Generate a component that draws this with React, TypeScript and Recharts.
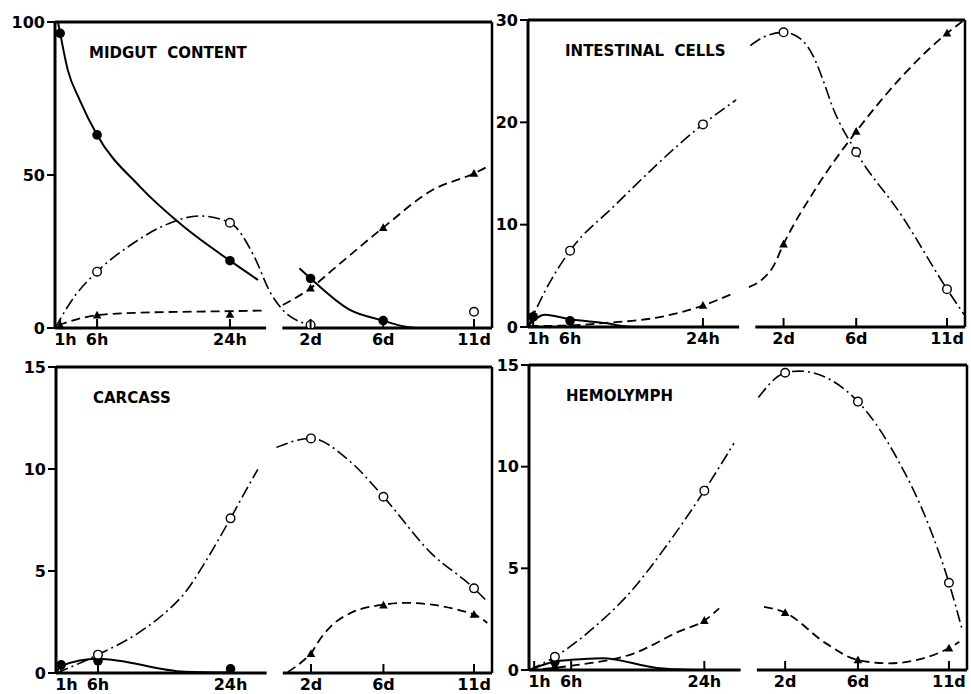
import React from 'react';
import { ComposedChart, Line, Scatter, XAxis, YAxis, ReferenceLine } from 'recharts';

type Pt = [string, number, number]; // unit ('h' hours | 'd' days), time, value

// ---------- axis categories ----------
const tickLabels = ['1h', '6h', '24h', '2d', '6d', '11d'];
const tickTimes: [string, number][] = [['h', 1], ['h', 6], ['h', 24], ['d', 2], ['d', 6], ['d', 11]];

// broken time axis: hours segment then days segment
const DAY_OFFSET = 30;
const DAY_SCALE = 2.46;
const X_DOMAIN: [number, number] = [0.3, 59.5];
const AXIS_BREAK: [number, number] = [28.9, 31.1];

// ---------- MIDGUT CONTENT ----------
const midgutFilled: Pt[] = [['h', 1, 96.3], ['h', 6, 63.1], ['h', 24, 22.0], ['d', 2, 16.2], ['d', 6, 2.4]];
const midgutOpen: Pt[] = [['h', 6, 18.4], ['h', 24, 34.4], ['d', 2, 1.0], ['d', 11, 5.3]];
const midgutTri: Pt[] = [['h', 1, 0.8], ['h', 6, 4.2], ['h', 24, 4.4], ['d', 2, 13.0], ['d', 6, 32.8], ['d', 11, 50.5]];
const midgutSolidH: Pt[] = [['h', 0.7, 100], ['h', 1, 96.3], ['h', 2, 84.6], ['h', 3.65, 74.5], ['h', 6, 63.1], ['h', 11.8, 46.2], ['h', 17.6, 33.4], ['h', 24, 22.0], ['h', 27.8, 15.7]];
const midgutSolidD: Pt[] = [['d', 1.39, 19.5], ['d', 2, 16.2], ['d', 4.14, 6.0], ['d', 6, 2.4], ['d', 7, 0.7], ['d', 7.8, 0]];
const midgutDashDot: Pt[] = [['h', 0.3, 0], ['h', 3, 10.5], ['h', 6, 18.4], ['h', 10.9, 27.7], ['h', 15, 33.4], ['h', 19.9, 36.6], ['h', 24, 34.4], ['h', 27.3, 23.3], ['h', 29.4, 11.9], ['d', 0.47, 5.9], ['d', 1.39, 2.1], ['d', 2, 1.0]];
const midgutDashedH: Pt[] = [['h', 0.72, 0.9], ['h', 6, 4.2], ['h', 11.8, 5.0], ['h', 24, 5.5], ['h', 28.7, 5.7]];
const midgutDashedD: Pt[] = [['d', 0.47, 7.5], ['d', 2, 13.0], ['d', 3.41, 20.0], ['d', 6, 32.8], ['d', 8.71, 45.1], ['d', 11, 50.5], ['d', 11.84, 53.0]];

// ---------- INTESTINAL CELLS ----------
const intestFilled: Pt[] = [['h', 1, 1.0], ['h', 6, 0.6]];
const intestOpen: Pt[] = [['h', 6, 7.46], ['h', 24, 19.8], ['d', 2, 28.8], ['d', 6, 17.1], ['d', 11, 3.7]];
const intestTri: Pt[] = [['h', 1, 1.2], ['h', 24, 2.1], ['d', 2, 8.1], ['d', 6, 19.1], ['d', 11, 28.7]];
const intestSolidH: Pt[] = [['h', 0.4, 0.2], ['h', 2.6, 1.2], ['h', 6, 0.75], ['h', 11, 0.36], ['h', 13.7, 0.05], ['h', 16, 0]];
const intestDashDotH: Pt[] = [['h', 0.3, 0], ['h', 2.6, 3.5], ['h', 6, 7.46], ['h', 11.8, 11.7], ['h', 24, 19.8], ['h', 28.5, 22.2]];
const intestDashDotD: Pt[] = [['d', 0.17, 27.5], ['d', 0.86, 28.3], ['d', 2, 28.8], ['d', 2.9, 28.2], ['d', 3.6, 26.6], ['d', 4.2, 24.0], ['d', 4.7, 21.5], ['d', 6, 17.1], ['d', 8.5, 10.9], ['d', 11, 3.7], ['d', 11.95, 1.2]];
const intestDashedH: Pt[] = [['h', 0.5, 0.1], ['h', 6, 0.15], ['h', 10.9, 0.4], ['h', 18.1, 0.96], ['h', 24, 2.1], ['h', 28, 3.25]];
const intestDashedD: Pt[] = [['d', 0.09, 3.9], ['d', 0.86, 4.7], ['d', 1.41, 5.85], ['d', 2, 8.1], ['d', 3.8, 13.6], ['d', 6, 19.1], ['d', 11, 28.7], ['d', 11.95, 30]];

// ---------- CARCASS ----------
const carcFilled: Pt[] = [['h', 1, 0.4], ['h', 6, 0.6], ['h', 24, 0.2]];
const carcOpen: Pt[] = [['h', 6, 0.9], ['h', 24, 7.58], ['d', 2, 11.5], ['d', 6, 8.64], ['d', 11, 4.15]];
const carcTri: Pt[] = [['d', 2, 0.94], ['d', 6, 3.32], ['d', 11, 2.87]];
const carcSolidH: Pt[] = [['h', 0.45, 0.09], ['h', 1, 0.35], ['h', 6, 0.7], ['h', 17.8, 0.06], ['h', 24, 0.02]];
const carcDashDotH: Pt[] = [['h', 0.4, 0], ['h', 6, 0.9], ['h', 11.5, 1.97], ['h', 15.1, 2.95], ['h', 17.8, 3.93], ['h', 20.5, 5.4], ['h', 22.3, 6.5], ['h', 24, 7.58], ['h', 25.9, 8.83], ['h', 27.7, 9.98]];
const carcDashDotD: Pt[] = [['d', 0.09, 11.06], ['d', 2, 11.5], ['d', 4.03, 10.47], ['d', 6, 8.64], ['d', 8.6, 5.9], ['d', 11, 4.15], ['d', 11.73, 3.5]];
const carcDashedD: Pt[] = [['d', 0.73, 0.05], ['d', 1.65, 0.66], ['d', 2, 0.95], ['d', 2.38, 1.5], ['d', 3.11, 2.3], ['d', 4.21, 2.95], ['d', 6, 3.35], ['d', 7.15, 3.44], ['d', 11, 2.87], ['d', 11.73, 2.45]];

// ---------- HEMOLYMPH ----------
const hemoFilled: Pt[] = [['h', 3.8, 0.4]];
const hemoOpen: Pt[] = [['h', 3.8, 0.65], ['h', 24, 8.82], ['d', 2, 14.62], ['d', 6, 13.2], ['d', 11, 4.29]];
const hemoTri: Pt[] = [['h', 3.8, 0.2], ['h', 24, 2.43], ['d', 2, 2.82], ['d', 6, 0.49], ['d', 11, 1.07]];
const hemoSolidH: Pt[] = [['h', 0.3, 0], ['h', 3.8, 0.42], ['h', 6, 0.5], ['h', 10.2, 0.58], ['h', 17.6, 0.1], ['h', 22.4, 0]];
const hemoDashDotH: Pt[] = [['h', 0.3, 0], ['h', 3.8, 0.65], ['h', 9.1, 2.1], ['h', 13.8, 3.75], ['h', 18.8, 6.07], ['h', 24, 8.82], ['h', 28, 11.15]];
const hemoDashDotD: Pt[] = [['d', 0.53, 13.4], ['d', 2, 14.62], ['d', 2.77, 14.7], ['d', 6, 13.2], ['d', 8.09, 10.5], ['d', 9.92, 7.05], ['d', 11, 4.29], ['d', 11.73, 1.97]];
const hemoDashedH: Pt[] = [['h', 0.3, 0], ['h', 5, 0.16], ['h', 6.8, 0.25], ['h', 14.5, 0.82], ['h', 20.6, 1.9], ['h', 24, 2.43], ['h', 26, 3.03]];
const hemoDashedD: Pt[] = [['d', 0.84, 3.11], ['d', 2, 2.82], ['d', 4.24, 1.31], ['d', 6, 0.49], ['d', 7.7, 0.33], ['d', 11, 1.07], ['d', 11.57, 1.39]];

// ---------- helpers ----------
const toPos = (u: string, t: number) => (u === 'h' ? t : DAY_OFFSET + DAY_SCALE * t);
const rows = (pts: Pt[]) => pts.map(([u, t, v]) => ({ x: toPos(u, t), y: v }));
const tickPositions = tickTimes.map(([u, t]) => toPos(u, t));

const FONT = "'DejaVu Sans', sans-serif";

const STYLES: Record<string, { dash?: string; width: number }> = {
  solid: { width: 2 },
  dashed: { dash: '9 5', width: 1.8 },
  dashdot: { dash: '12 4 2 4', width: 1.6 },
};

function XTick(props: any) {
  const { x, y, payload } = props;
  const idx = tickPositions.findIndex((p) => Math.abs(p - payload.value) < 1e-6);
  const label = tickLabels[idx] ?? '';
  const first = idx === 0;
  return (
    <g>
      <line x1={x} y1={y} x2={x} y2={y - 9} stroke="#000" strokeWidth={2} />
      <text
        x={first ? x - 6 : x}
        y={y + 17}
        textAnchor={first ? 'start' : 'middle'}
        fontFamily={FONT}
        fontWeight={700}
        fontSize={16}
        fill="#000"
      >
        {label}
      </text>
    </g>
  );
}

const filledShape = (p: any) => <circle cx={p.cx} cy={p.cy} r={4.8} fill="#000" />;
const openShape = (p: any) => <circle cx={p.cx} cy={p.cy} r={4.3} fill="#fff" stroke="#000" strokeWidth={1.4} />;
const triShape = (p: any) => (
  <path d={`M${p.cx},${p.cy - 4.5} L${p.cx + 4.3},${p.cy + 3.3} L${p.cx - 4.3},${p.cy + 3.3} Z`} fill="#000" />
);

type PanelProps = {
  box: { left: number; top: number; width: number; height: number };
  margin: { top: number; right: number; left: number; bottom: number };
  yAxisWidth: number;
  xAxisHeight: number;
  yMax: number;
  yTicks: number[];
  curves: { pts: Pt[]; style: string }[];
  filled: Pt[];
  open: Pt[];
  tri: Pt[];
};

function Panel(p: PanelProps) {
  return (
    <div style={{ position: 'absolute', left: p.box.left, top: p.box.top, width: p.box.width, height: p.box.height }}>
      <ComposedChart width={p.box.width} height={p.box.height} margin={p.margin}>
        <XAxis
          dataKey="x"
          type="number"
          domain={X_DOMAIN}
          allowDataOverflow
          ticks={tickPositions}
          interval={0}
          axisLine={false}
          tickLine={false}
          tickSize={0}
          tickMargin={0}
          height={p.xAxisHeight}
          tick={<XTick />}
        />
        <YAxis
          dataKey="y"
          type="number"
          domain={[0, p.yMax]}
          allowDataOverflow
          ticks={p.yTicks}
          interval={0}
          width={p.yAxisWidth}
          axisLine={{ stroke: '#000', strokeWidth: 3 }}
          tickLine={{ stroke: '#000', strokeWidth: 2 }}
          tickSize={8}
          tickMargin={2}
          tick={{ fill: '#000', fontSize: 16, fontWeight: 700, fontFamily: FONT }}
        />
        <ReferenceLine y={p.yMax} stroke="#000" strokeWidth={3} />
        <ReferenceLine x={X_DOMAIN[1]} stroke="#000" strokeWidth={2.5} />
        <ReferenceLine segment={[{ x: X_DOMAIN[0], y: 0 }, { x: AXIS_BREAK[0], y: 0 }]} stroke="#000" strokeWidth={3} />
        <ReferenceLine segment={[{ x: AXIS_BREAK[1], y: 0 }, { x: X_DOMAIN[1], y: 0 }]} stroke="#000" strokeWidth={3} />
        {p.curves.map((c, i) => (
          <Line
            key={i}
            data={rows(c.pts)}
            dataKey="y"
            type="monotone"
            stroke="#000"
            strokeWidth={STYLES[c.style].width}
            strokeDasharray={STYLES[c.style].dash}
            dot={false}
            activeDot={false}
            isAnimationActive={false}
          />
        ))}
        <Scatter data={rows(p.tri)} dataKey="y" shape={triShape} isAnimationActive={false} />
        <Scatter data={rows(p.filled)} dataKey="y" shape={filledShape} isAnimationActive={false} />
        <Scatter data={rows(p.open)} dataKey="y" shape={openShape} isAnimationActive={false} />
      </ComposedChart>
    </div>
  );
}

const titles = [
  { text: 'MIDGUT  CONTENT', x: 89, y: 57.5 },
  { text: 'INTESTINAL  CELLS', x: 565, y: 56 },
  { text: 'CARCASS', x: 93, y: 403 },
  { text: 'HEMOLYMPH', x: 566, y: 401 },
];

export default function App() {
  return (
    <div style={{ position: 'absolute', left: 0, top: 0, width: 971, height: 694, background: '#fff', overflow: 'hidden' }}>
      <Panel
        box={{ left: 0, top: 0, width: 500, height: 350 }}
        margin={{ top: 22, right: 8, left: 0, bottom: 0 }}
        yAxisWidth={55}
        xAxisHeight={22}
        yMax={100}
        yTicks={[0, 50, 100]}
        curves={[
          { pts: midgutSolidH, style: 'solid' },
          { pts: midgutSolidD, style: 'solid' },
          { pts: midgutDashDot, style: 'dashdot' },
          { pts: midgutDashedH, style: 'dashed' },
          { pts: midgutDashedD, style: 'dashed' },
        ]}
        filled={midgutFilled}
        open={midgutOpen}
        tri={midgutTri}
      />
      <Panel
        box={{ left: 470, top: 0, width: 500, height: 349 }}
        margin={{ top: 20, right: 5, left: 0, bottom: 0 }}
        yAxisWidth={58}
        xAxisHeight={22}
        yMax={30}
        yTicks={[0, 10, 20, 30]}
        curves={[
          { pts: intestSolidH, style: 'solid' },
          { pts: intestDashDotH, style: 'dashdot' },
          { pts: intestDashDotD, style: 'dashdot' },
          { pts: intestDashedH, style: 'dashed' },
          { pts: intestDashedD, style: 'dashed' },
        ]}
        filled={intestFilled}
        open={intestOpen}
        tri={intestTri}
      />
      <Panel
        box={{ left: 0, top: 345, width: 500, height: 349 }}
        margin={{ top: 22, right: 8, left: 0, bottom: 0 }}
        yAxisWidth={56}
        xAxisHeight={21}
        yMax={15}
        yTicks={[0, 5, 10, 15]}
        curves={[
          { pts: carcSolidH, style: 'solid' },
          { pts: carcDashDotH, style: 'dashdot' },
          { pts: carcDashDotD, style: 'dashdot' },
          { pts: carcDashedD, style: 'dashed' },
        ]}
        filled={carcFilled}
        open={carcOpen}
        tri={carcTri}
      />
      <Panel
        box={{ left: 470, top: 345, width: 500, height: 349 }}
        margin={{ top: 20, right: 3, left: 0, bottom: 0 }}
        yAxisWidth={59}
        xAxisHeight={24}
        yMax={15}
        yTicks={[0, 5, 10, 15]}
        curves={[
          { pts: hemoSolidH, style: 'solid' },
          { pts: hemoDashDotH, style: 'dashdot' },
          { pts: hemoDashDotD, style: 'dashdot' },
          { pts: hemoDashedH, style: 'dashed' },
          { pts: hemoDashedD, style: 'dashed' },
        ]}
        filled={hemoFilled}
        open={hemoOpen}
        tri={hemoTri}
      />
      <svg width={971} height={694} style={{ position: 'absolute', left: 0, top: 0, pointerEvents: 'none' }}>
        {titles.map((t) => (
          <text
            key={t.text}
            x={t.x}
            y={t.y}
            fontFamily={FONT}
            fontWeight={700}
            fontSize={15}
            fill="#000"
            style={{ whiteSpace: 'pre' }}
          >
            {t.text}
          </text>
        ))}
      </svg>
    </div>
  );
}
